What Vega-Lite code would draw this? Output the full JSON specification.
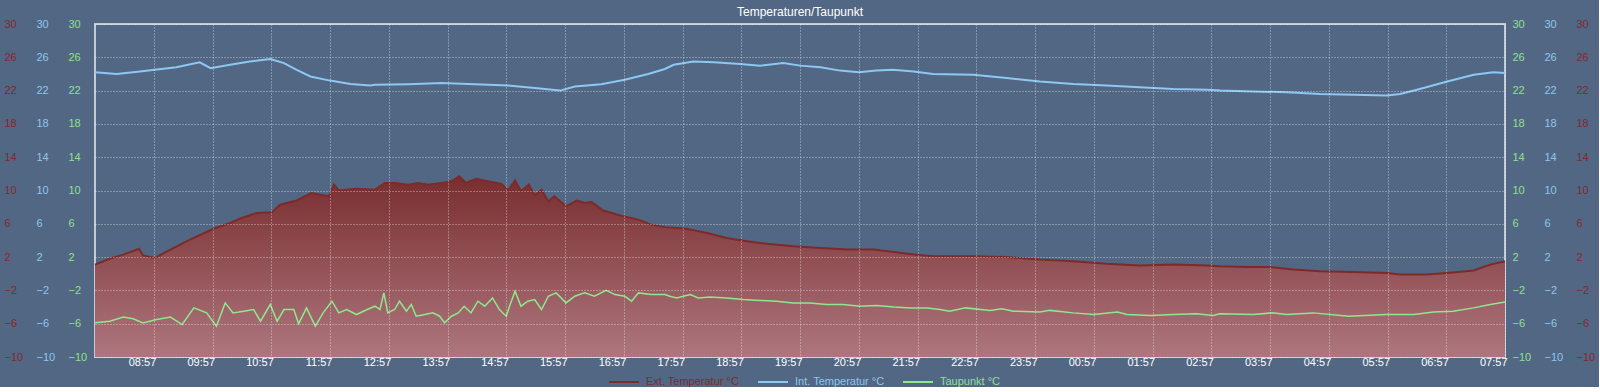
{
  "$schema": "https://vega.github.io/schema/vega-lite/v6.json",
  "width": 1410,
  "height": 333,
  "padding": {"left": 4, "top": 6, "right": 4, "bottom": 0},
  "background": "#526784",
  "title": {"text": "Temperaturen/Taupunkt", "color": "#ffffff", "fontSize": 12, "fontWeight": "normal", "offset": 0, "dy": 1, "font": "Liberation Sans"},
  "datasets": {
    "ext": [
      {"t": "2024-01-15T07:57", "v": 1.1},
      {"t": "2024-01-15T08:12", "v": 1.8},
      {"t": "2024-01-15T08:26", "v": 2.3},
      {"t": "2024-01-15T08:42", "v": 3.0},
      {"t": "2024-01-15T08:46", "v": 2.2},
      {"t": "2024-01-15T08:58", "v": 1.9},
      {"t": "2024-01-15T09:14", "v": 2.9},
      {"t": "2024-01-15T09:34", "v": 4.1},
      {"t": "2024-01-15T09:58", "v": 5.4},
      {"t": "2024-01-15T10:15", "v": 6.1},
      {"t": "2024-01-15T10:25", "v": 6.6},
      {"t": "2024-01-15T10:42", "v": 7.3},
      {"t": "2024-01-15T10:58", "v": 7.4},
      {"t": "2024-01-15T11:06", "v": 8.3},
      {"t": "2024-01-15T11:23", "v": 8.8},
      {"t": "2024-01-15T11:38", "v": 9.7},
      {"t": "2024-01-15T11:56", "v": 9.3},
      {"t": "2024-01-15T12:01", "v": 10.7},
      {"t": "2024-01-15T12:06", "v": 10.0},
      {"t": "2024-01-15T12:24", "v": 10.2},
      {"t": "2024-01-15T12:43", "v": 10.1},
      {"t": "2024-01-15T12:53", "v": 10.9},
      {"t": "2024-01-15T13:03", "v": 10.9},
      {"t": "2024-01-15T13:17", "v": 10.7},
      {"t": "2024-01-15T13:27", "v": 10.9},
      {"t": "2024-01-15T13:37", "v": 10.7},
      {"t": "2024-01-15T13:51", "v": 10.9},
      {"t": "2024-01-15T14:01", "v": 11.1},
      {"t": "2024-01-15T14:09", "v": 11.7},
      {"t": "2024-01-15T14:16", "v": 10.9},
      {"t": "2024-01-15T14:26", "v": 11.4},
      {"t": "2024-01-15T14:38", "v": 11.1},
      {"t": "2024-01-15T14:52", "v": 10.8},
      {"t": "2024-01-15T14:59", "v": 10.0},
      {"t": "2024-01-15T15:06", "v": 11.2},
      {"t": "2024-01-15T15:12", "v": 9.9},
      {"t": "2024-01-15T15:20", "v": 10.7},
      {"t": "2024-01-15T15:26", "v": 9.4},
      {"t": "2024-01-15T15:33", "v": 10.1},
      {"t": "2024-01-15T15:40", "v": 8.7},
      {"t": "2024-01-15T15:46", "v": 9.3},
      {"t": "2024-01-15T15:58", "v": 8.1},
      {"t": "2024-01-15T16:09", "v": 8.8},
      {"t": "2024-01-15T16:17", "v": 8.5},
      {"t": "2024-01-15T16:24", "v": 8.6},
      {"t": "2024-01-15T16:36", "v": 7.6},
      {"t": "2024-01-15T16:56", "v": 6.9},
      {"t": "2024-01-15T17:12", "v": 6.5},
      {"t": "2024-01-15T17:25", "v": 5.9},
      {"t": "2024-01-15T17:39", "v": 5.6},
      {"t": "2024-01-15T18:01", "v": 5.4},
      {"t": "2024-01-15T18:22", "v": 4.9},
      {"t": "2024-01-15T18:42", "v": 4.3},
      {"t": "2024-01-15T19:03", "v": 3.9},
      {"t": "2024-01-15T19:23", "v": 3.6},
      {"t": "2024-01-15T19:50", "v": 3.3},
      {"t": "2024-01-15T20:18", "v": 3.1},
      {"t": "2024-01-15T20:45", "v": 2.9},
      {"t": "2024-01-15T21:12", "v": 2.9},
      {"t": "2024-01-15T21:33", "v": 2.6},
      {"t": "2024-01-15T21:53", "v": 2.3},
      {"t": "2024-01-15T22:13", "v": 2.1},
      {"t": "2024-01-15T22:54", "v": 2.1},
      {"t": "2024-01-15T23:28", "v": 2.0},
      {"t": "2024-01-16T00:02", "v": 1.7},
      {"t": "2024-01-16T00:36", "v": 1.5},
      {"t": "2024-01-16T01:10", "v": 1.2},
      {"t": "2024-01-16T01:44", "v": 1.0},
      {"t": "2024-01-16T02:18", "v": 1.1},
      {"t": "2024-01-16T02:53", "v": 1.0},
      {"t": "2024-01-16T03:06", "v": 0.9},
      {"t": "2024-01-16T03:33", "v": 0.8},
      {"t": "2024-01-16T03:57", "v": 0.8},
      {"t": "2024-01-16T04:21", "v": 0.5},
      {"t": "2024-01-16T04:48", "v": 0.3},
      {"t": "2024-01-16T05:22", "v": 0.2},
      {"t": "2024-01-16T05:56", "v": 0.1},
      {"t": "2024-01-16T06:10", "v": -0.1},
      {"t": "2024-01-16T06:37", "v": -0.1},
      {"t": "2024-01-16T06:58", "v": 0.1},
      {"t": "2024-01-16T07:25", "v": 0.4},
      {"t": "2024-01-16T07:42", "v": 1.1},
      {"t": "2024-01-16T07:57", "v": 1.5}
    ],
    "int": [
      {"t": "2024-01-15T07:57", "v": 24.2},
      {"t": "2024-01-15T08:19", "v": 24.0},
      {"t": "2024-01-15T08:43", "v": 24.3},
      {"t": "2024-01-15T08:58", "v": 24.5},
      {"t": "2024-01-15T09:20", "v": 24.8},
      {"t": "2024-01-15T09:44", "v": 25.4},
      {"t": "2024-01-15T09:55", "v": 24.7},
      {"t": "2024-01-15T10:15", "v": 25.1},
      {"t": "2024-01-15T10:35", "v": 25.5},
      {"t": "2024-01-15T10:56", "v": 25.8},
      {"t": "2024-01-15T11:10", "v": 25.3},
      {"t": "2024-01-15T11:23", "v": 24.5},
      {"t": "2024-01-15T11:37", "v": 23.7},
      {"t": "2024-01-15T11:57", "v": 23.2},
      {"t": "2024-01-15T12:18", "v": 22.8},
      {"t": "2024-01-15T12:38", "v": 22.6},
      {"t": "2024-01-15T12:43", "v": 22.7},
      {"t": "2024-01-15T13:17", "v": 22.76},
      {"t": "2024-01-15T13:51", "v": 22.9},
      {"t": "2024-01-15T14:25", "v": 22.76},
      {"t": "2024-01-15T14:59", "v": 22.6},
      {"t": "2024-01-15T15:26", "v": 22.3},
      {"t": "2024-01-15T15:52", "v": 22.0},
      {"t": "2024-01-15T16:07", "v": 22.5},
      {"t": "2024-01-15T16:34", "v": 22.76},
      {"t": "2024-01-15T16:58", "v": 23.3},
      {"t": "2024-01-15T17:22", "v": 24.0},
      {"t": "2024-01-15T17:39", "v": 24.6},
      {"t": "2024-01-15T17:48", "v": 25.1},
      {"t": "2024-01-15T18:08", "v": 25.5},
      {"t": "2024-01-15T18:29", "v": 25.4},
      {"t": "2024-01-15T18:56", "v": 25.2},
      {"t": "2024-01-15T19:16", "v": 25.0},
      {"t": "2024-01-15T19:40", "v": 25.3},
      {"t": "2024-01-15T19:57", "v": 25.0},
      {"t": "2024-01-15T20:18", "v": 24.8},
      {"t": "2024-01-15T20:38", "v": 24.4},
      {"t": "2024-01-15T20:57", "v": 24.2},
      {"t": "2024-01-15T21:15", "v": 24.4},
      {"t": "2024-01-15T21:32", "v": 24.5},
      {"t": "2024-01-15T21:53", "v": 24.3},
      {"t": "2024-01-15T22:13", "v": 24.0},
      {"t": "2024-01-15T22:54", "v": 23.9},
      {"t": "2024-01-15T23:28", "v": 23.5},
      {"t": "2024-01-16T00:02", "v": 23.1},
      {"t": "2024-01-16T00:36", "v": 22.8},
      {"t": "2024-01-16T01:10", "v": 22.6},
      {"t": "2024-01-16T01:44", "v": 22.4},
      {"t": "2024-01-16T02:18", "v": 22.2},
      {"t": "2024-01-16T02:53", "v": 22.1},
      {"t": "2024-01-16T03:06", "v": 22.0},
      {"t": "2024-01-16T03:40", "v": 21.9},
      {"t": "2024-01-16T04:14", "v": 21.8},
      {"t": "2024-01-16T04:48", "v": 21.6},
      {"t": "2024-01-16T05:22", "v": 21.5},
      {"t": "2024-01-16T05:56", "v": 21.4},
      {"t": "2024-01-16T06:10", "v": 21.6},
      {"t": "2024-01-16T06:30", "v": 22.2},
      {"t": "2024-01-16T06:58", "v": 23.1},
      {"t": "2024-01-16T07:25", "v": 23.9},
      {"t": "2024-01-16T07:45", "v": 24.2},
      {"t": "2024-01-16T07:57", "v": 24.1}
    ],
    "tau": [
      {"t": "2024-01-15T07:57", "v": -5.9},
      {"t": "2024-01-15T08:12", "v": -5.7},
      {"t": "2024-01-15T08:26", "v": -5.2},
      {"t": "2024-01-15T08:36", "v": -5.4},
      {"t": "2024-01-15T08:46", "v": -5.9},
      {"t": "2024-01-15T09:00", "v": -5.5},
      {"t": "2024-01-15T09:14", "v": -5.2},
      {"t": "2024-01-15T09:26", "v": -6.1},
      {"t": "2024-01-15T09:38", "v": -4.1},
      {"t": "2024-01-15T09:51", "v": -4.7},
      {"t": "2024-01-15T10:01", "v": -6.3},
      {"t": "2024-01-15T10:10", "v": -3.5},
      {"t": "2024-01-15T10:18", "v": -4.7},
      {"t": "2024-01-15T10:29", "v": -4.5},
      {"t": "2024-01-15T10:39", "v": -4.3},
      {"t": "2024-01-15T10:46", "v": -5.7},
      {"t": "2024-01-15T10:56", "v": -3.7},
      {"t": "2024-01-15T11:03", "v": -5.7},
      {"t": "2024-01-15T11:10", "v": -4.3},
      {"t": "2024-01-15T11:20", "v": -4.3},
      {"t": "2024-01-15T11:25", "v": -6.0},
      {"t": "2024-01-15T11:33", "v": -4.1},
      {"t": "2024-01-15T11:42", "v": -6.3},
      {"t": "2024-01-15T11:50", "v": -4.7},
      {"t": "2024-01-15T11:59", "v": -3.3},
      {"t": "2024-01-15T12:06", "v": -4.7},
      {"t": "2024-01-15T12:14", "v": -4.3},
      {"t": "2024-01-15T12:24", "v": -4.9},
      {"t": "2024-01-15T12:35", "v": -4.3},
      {"t": "2024-01-15T12:43", "v": -3.9},
      {"t": "2024-01-15T12:48", "v": -4.3},
      {"t": "2024-01-15T12:52", "v": -2.3},
      {"t": "2024-01-15T12:56", "v": -4.7},
      {"t": "2024-01-15T13:03", "v": -4.3},
      {"t": "2024-01-15T13:08", "v": -3.3},
      {"t": "2024-01-15T13:15", "v": -4.5},
      {"t": "2024-01-15T13:20", "v": -3.7},
      {"t": "2024-01-15T13:25", "v": -5.1},
      {"t": "2024-01-15T13:34", "v": -4.9},
      {"t": "2024-01-15T13:42", "v": -4.7},
      {"t": "2024-01-15T13:49", "v": -5.1},
      {"t": "2024-01-15T13:54", "v": -5.9},
      {"t": "2024-01-15T14:01", "v": -5.1},
      {"t": "2024-01-15T14:08", "v": -4.7},
      {"t": "2024-01-15T14:14", "v": -3.9},
      {"t": "2024-01-15T14:21", "v": -4.7},
      {"t": "2024-01-15T14:28", "v": -3.3},
      {"t": "2024-01-15T14:35", "v": -3.9},
      {"t": "2024-01-15T14:43", "v": -2.9},
      {"t": "2024-01-15T14:50", "v": -4.3},
      {"t": "2024-01-15T14:57", "v": -5.1},
      {"t": "2024-01-15T15:01", "v": -3.7},
      {"t": "2024-01-15T15:06", "v": -2.1},
      {"t": "2024-01-15T15:12", "v": -3.9},
      {"t": "2024-01-15T15:19", "v": -3.3},
      {"t": "2024-01-15T15:26", "v": -3.1},
      {"t": "2024-01-15T15:33", "v": -4.3},
      {"t": "2024-01-15T15:40", "v": -2.7},
      {"t": "2024-01-15T15:48", "v": -2.3},
      {"t": "2024-01-15T15:58", "v": -3.5},
      {"t": "2024-01-15T16:07", "v": -2.7},
      {"t": "2024-01-15T16:17", "v": -2.3},
      {"t": "2024-01-15T16:27", "v": -2.7},
      {"t": "2024-01-15T16:39", "v": -2.0},
      {"t": "2024-01-15T16:48", "v": -2.5},
      {"t": "2024-01-15T16:58", "v": -2.7},
      {"t": "2024-01-15T17:05", "v": -3.3},
      {"t": "2024-01-15T17:12", "v": -2.3},
      {"t": "2024-01-15T17:25", "v": -2.5},
      {"t": "2024-01-15T17:39", "v": -2.5},
      {"t": "2024-01-15T17:44", "v": -2.7},
      {"t": "2024-01-15T17:51", "v": -2.9},
      {"t": "2024-01-15T18:05", "v": -2.5},
      {"t": "2024-01-15T18:13", "v": -2.9},
      {"t": "2024-01-15T18:25", "v": -2.8},
      {"t": "2024-01-15T18:42", "v": -2.9},
      {"t": "2024-01-15T18:59", "v": -3.1},
      {"t": "2024-01-15T19:16", "v": -3.2},
      {"t": "2024-01-15T19:33", "v": -3.3},
      {"t": "2024-01-15T19:50", "v": -3.5},
      {"t": "2024-01-15T20:07", "v": -3.5},
      {"t": "2024-01-15T20:24", "v": -3.7},
      {"t": "2024-01-15T20:41", "v": -3.7},
      {"t": "2024-01-15T20:58", "v": -3.9},
      {"t": "2024-01-15T21:15", "v": -3.8},
      {"t": "2024-01-15T21:33", "v": -4.0},
      {"t": "2024-01-15T21:50", "v": -4.1},
      {"t": "2024-01-15T22:07", "v": -4.1},
      {"t": "2024-01-15T22:20", "v": -4.3},
      {"t": "2024-01-15T22:30", "v": -4.5},
      {"t": "2024-01-15T22:46", "v": -4.1},
      {"t": "2024-01-15T23:11", "v": -4.4},
      {"t": "2024-01-15T23:23", "v": -4.2},
      {"t": "2024-01-15T23:35", "v": -4.5},
      {"t": "2024-01-16T00:02", "v": -4.6},
      {"t": "2024-01-16T00:12", "v": -4.4},
      {"t": "2024-01-16T00:36", "v": -4.7},
      {"t": "2024-01-16T00:57", "v": -4.9},
      {"t": "2024-01-16T01:21", "v": -4.6},
      {"t": "2024-01-16T01:31", "v": -4.9},
      {"t": "2024-01-16T01:55", "v": -5.0},
      {"t": "2024-01-16T02:18", "v": -4.9},
      {"t": "2024-01-16T02:42", "v": -4.8},
      {"t": "2024-01-16T02:59", "v": -5.0},
      {"t": "2024-01-16T03:06", "v": -4.8},
      {"t": "2024-01-16T03:40", "v": -4.9},
      {"t": "2024-01-16T03:59", "v": -4.7},
      {"t": "2024-01-16T04:14", "v": -4.9},
      {"t": "2024-01-16T04:41", "v": -4.7},
      {"t": "2024-01-16T05:17", "v": -5.1},
      {"t": "2024-01-16T05:56", "v": -4.9},
      {"t": "2024-01-16T06:24", "v": -4.9},
      {"t": "2024-01-16T06:44", "v": -4.6},
      {"t": "2024-01-16T07:04", "v": -4.5},
      {"t": "2024-01-16T07:25", "v": -4.1},
      {"t": "2024-01-16T07:42", "v": -3.7},
      {"t": "2024-01-16T07:57", "v": -3.4}
    ]
  },
  "encoding": {
    "x": {
      "field": "t",
      "type": "temporal",
      "title": null,
      "scale": {
        "domain": [
          {"year": 2024, "month": 1, "date": 15, "hours": 7, "minutes": 57},
          {"year": 2024, "month": 1, "date": 16, "hours": 7, "minutes": 57}
        ],
        "nice": false
      },
      "axis": {
        "format": "%H:%M",
        "grid": true,
        "zindex": 1,
        "labelColor": "#ffffff",
        "labelAlign": "right",
        "labelBaseline": "top",
        "labelPadding": -1,
        "labelOffset": 2,
        "labelFontSize": 11,
        "values": [
          {"year": 2024, "month": 1, "date": 15, "hours": 8, "minutes": 57},
          {"year": 2024, "month": 1, "date": 15, "hours": 9, "minutes": 57},
          {"year": 2024, "month": 1, "date": 15, "hours": 10, "minutes": 57},
          {"year": 2024, "month": 1, "date": 15, "hours": 11, "minutes": 57},
          {"year": 2024, "month": 1, "date": 15, "hours": 12, "minutes": 57},
          {"year": 2024, "month": 1, "date": 15, "hours": 13, "minutes": 57},
          {"year": 2024, "month": 1, "date": 15, "hours": 14, "minutes": 57},
          {"year": 2024, "month": 1, "date": 15, "hours": 15, "minutes": 57},
          {"year": 2024, "month": 1, "date": 15, "hours": 16, "minutes": 57},
          {"year": 2024, "month": 1, "date": 15, "hours": 17, "minutes": 57},
          {"year": 2024, "month": 1, "date": 15, "hours": 18, "minutes": 57},
          {"year": 2024, "month": 1, "date": 15, "hours": 19, "minutes": 57},
          {"year": 2024, "month": 1, "date": 15, "hours": 20, "minutes": 57},
          {"year": 2024, "month": 1, "date": 15, "hours": 21, "minutes": 57},
          {"year": 2024, "month": 1, "date": 15, "hours": 22, "minutes": 57},
          {"year": 2024, "month": 1, "date": 15, "hours": 23, "minutes": 57},
          {"year": 2024, "month": 1, "date": 16, "hours": 0, "minutes": 57},
          {"year": 2024, "month": 1, "date": 16, "hours": 1, "minutes": 57},
          {"year": 2024, "month": 1, "date": 16, "hours": 2, "minutes": 57},
          {"year": 2024, "month": 1, "date": 16, "hours": 3, "minutes": 57},
          {"year": 2024, "month": 1, "date": 16, "hours": 4, "minutes": 57},
          {"year": 2024, "month": 1, "date": 16, "hours": 5, "minutes": 57},
          {"year": 2024, "month": 1, "date": 16, "hours": 6, "minutes": 57},
          {"year": 2024, "month": 1, "date": 16, "hours": 7, "minutes": 57}
        ]
      }
    }
  },
  "layer": [
    {
      "data": {"name": "ext"},
      "mark": {
        "type": "area",
        "fill": {
          "gradient": "linear", "x1": 0, "y1": 0, "x2": 0, "y2": 1,
          "stops": [{"offset": 0, "color": "#792e2f"}, {"offset": 1, "color": "#ad767e"}]
        }
      },
      "encoding": {
        "y": {
          "field": "v", "type": "quantitative",
          "scale": {"domain": [-10, 30], "nice": false, "zero": false},
          "axis": {"orient": "left", "offset": 64, "labelPadding": 27, "labelAlign": "left", "labelColor": "#83292a", "title": null, "grid": false, "values": [-10, -6, -2, 2, 6, 10, 14, 18, 22, 26, 30]}
        },
        "y2": {"datum": -10}
      }
    },
    {
      "data": {"name": "ext"},
      "mark": {"type": "line", "strokeWidth": 2},
      "encoding": {
        "y": {
          "field": "v", "type": "quantitative",
          "scale": {"domain": [-10, 30], "nice": false, "zero": false},
          "axis": {"orient": "right", "offset": 64, "labelPadding": 7, "labelAlign": "left", "labelColor": "#83292a", "title": null, "grid": false, "values": [-10, -6, -2, 2, 6, 10, 14, 18, 22, 26, 30]}
        },
        "color": {
          "datum": "Ext. Temperatur °C", "type": "nominal",
          "scale": {"domain": ["Ext. Temperatur °C", "Int. Temperatur °C", "Taupunkt °C"], "range": ["#7e2a28", "#8cc8f2", "#8fe88c"]},
          "legend": {
            "title": null, "orient": "none", "legendX": 513, "legendY": 342, "direction": "horizontal",
            "symbolType": "stroke", "symbolSize": 900, "symbolStrokeWidth": 2,
            "labelFontSize": 11, "labelOffset": 6, "columnPadding": 14,
            "encode": {"labels": {"update": {"fill": {"signal": "datum.value == 'Ext. Temperatur °C' ? '#83292a' : datum.value == 'Int. Temperatur °C' ? '#8ec6ee' : '#8fe08f'"}}}}
          }
        }
      }
    },
    {
      "data": {"name": "int"},
      "mark": {"type": "line", "strokeWidth": 2},
      "encoding": {
        "y": {
          "field": "v", "type": "quantitative",
          "scale": {"domain": [-10, 30], "nice": false, "zero": false},
          "axis": {"orient": "left", "offset": 32, "labelPadding": 27, "labelAlign": "left", "labelColor": "#8ec6ee", "title": null, "grid": false, "values": [-10, -6, -2, 2, 6, 10, 14, 18, 22, 26, 30]}
        },
        "color": {"datum": "Int. Temperatur °C", "type": "nominal"}
      }
    },
    {
      "data": {"name": "tau"},
      "mark": {"type": "line", "strokeWidth": 1.5},
      "encoding": {
        "y": {
          "field": "v", "type": "quantitative",
          "scale": {"domain": [-10, 30], "nice": false, "zero": false},
          "axis": {"orient": "left", "offset": 0, "labelPadding": 27, "labelAlign": "left", "labelColor": "#8fe08f", "title": null, "grid": true, "zindex": 1, "values": [-10, -6, -2, 2, 6, 10, 14, 18, 22, 26, 30]}
        },
        "color": {"datum": "Taupunkt °C", "type": "nominal"}
      }
    },
    {
      "data": {"name": "int"},
      "mark": {"type": "line", "opacity": 0},
      "encoding": {
        "y": {
          "field": "v", "type": "quantitative",
          "scale": {"domain": [-10, 30], "nice": false, "zero": false},
          "axis": {"orient": "right", "offset": 32, "labelPadding": 7, "labelAlign": "left", "labelColor": "#8ec6ee", "title": null, "grid": false, "values": [-10, -6, -2, 2, 6, 10, 14, 18, 22, 26, 30]}
        }
      }
    },
    {
      "data": {"name": "tau"},
      "mark": {"type": "line", "opacity": 0},
      "encoding": {
        "y": {
          "field": "v", "type": "quantitative",
          "scale": {"domain": [-10, 30], "nice": false, "zero": false},
          "axis": {"orient": "right", "offset": 0, "labelPadding": 7, "labelAlign": "left", "labelColor": "#8fe08f", "title": null, "grid": false, "values": [-10, -6, -2, 2, 6, 10, 14, 18, 22, 26, 30]}
        }
      }
    }
  ],
  "resolve": {"scale": {"y": "independent"}, "axis": {"y": "independent"}},
  "config": {
    "font": "Liberation Sans",
    "view": {"stroke": "#c3cbd6", "strokeWidth": 2},
    "axis": {"ticks": false, "domain": false, "labelFontSize": 11, "labelBaseline": "middle", "gridColor": "#ffffff", "gridDash": [1, 2], "gridOpacity": 0.6, "gridWidth": 1, "labelFlush": false, "labelOverlap": false},
    "axisX": {"labelBaseline": "top"},
    "legend": {"labelFont": "Liberation Sans"}
  }
}
